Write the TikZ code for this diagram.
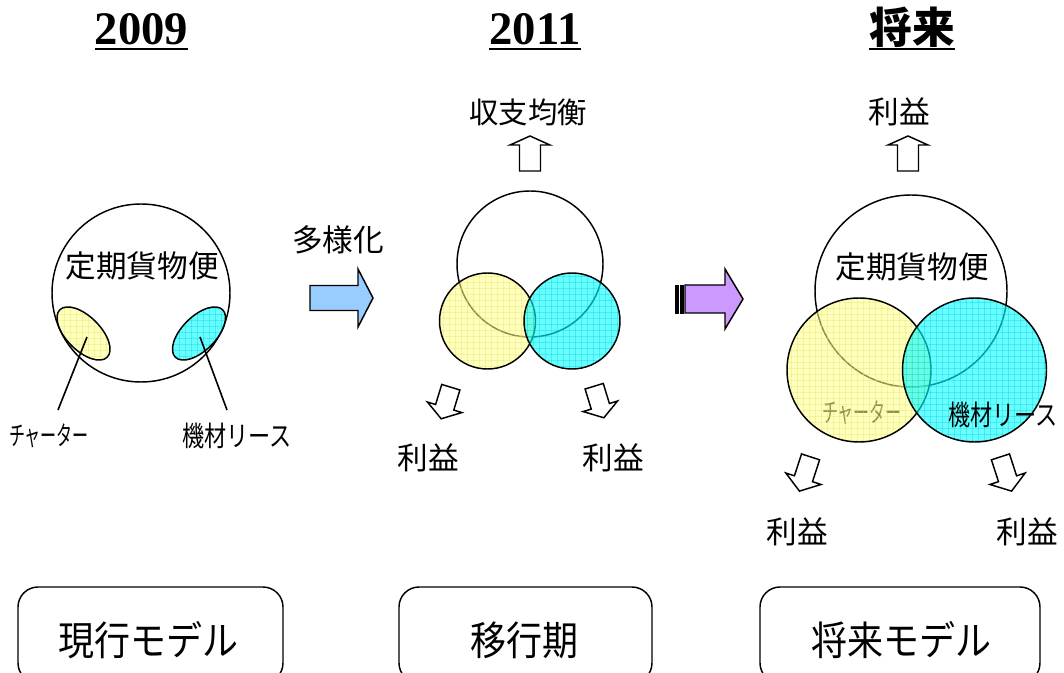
\documentclass[tikz,border=0pt]{standalone}
\usepackage{fontspec}
\usepackage{graphicx}
\setmainfont{Liberation Serif}
\newfontfamily\jp{Noto Sans CJK JP}
\newcommand\fsz[1]{\fontsize{#1}{#1}\selectfont}
\definecolor{yb}{RGB}{255,255,140}
\definecolor{cb}{RGB}{0,255,255}
\definecolor{yg}{RGB}{225,225,80}
\definecolor{cg}{RGB}{0,190,210}
\definecolor{blueA}{RGB}{153,204,255}
\definecolor{purpA}{RGB}{204,153,255}
\newcommand\gridbox[5]{%
  \fill[#4] (#1,#2) rectangle ++(#3,#3);
  \foreach \k in {0,6,...,#3} {\draw[#5] ({#1+\k},#2) -- ++(0,#3); \draw[#5] (#1,{#2+\k}) -- ++(#3,0);}}
\tikzset{
  circ/.style={draw=black, line width=1.1pt},
  yfill/.style={fill=yb, fill opacity=0.55},
  cfill/.style={fill=cb, fill opacity=0.6},
  ygrid/.style={draw=yg, line width=0.3pt, draw opacity=0.35},
  cgrid/.style={draw=cg, line width=0.3pt, draw opacity=0.3},
  lbl/.style={font=\jp\fsz{23}, inner sep=0pt},
  title/.style={font=\bfseries\fsz{35}, inner sep=0pt, anchor=base},
  boxsty/.style={draw=black, line width=1.1pt, rounded corners=15pt},
  boxtxt/.style={font=\jp\fsz{30}, inner sep=0pt},
  pics/barrow/.style n args={5}{code={
    \filldraw[fill=#5, draw=black, line width=1.1pt, line join=miter]
      (-#1/2,-#2/2) -- (#1/2-#4,-#2/2) -- (#1/2-#4,-#3/2) -- (#1/2,0)
      -- (#1/2-#4,#3/2) -- (#1/2-#4,#2/2) -- (-#1/2,#2/2) -- cycle;
  }}
}
\begin{document}
\begin{tikzpicture}[x=0.75pt,y=-0.75pt]
\path[use as bounding box, clip] (0,0) rectangle (1064,673);

% ---------- titles
\node[title] (y1) at (141.5,45) {2009};
\draw[line width=2pt] ([yshift=-3pt]y1.base west) -- ([yshift=-3pt]y1.base east);
\node[title] (y2) at (535,45) {2011};
\draw[line width=2pt] ([yshift=-3pt]y2.base west) -- ([yshift=-3pt]y2.base east);
\node[title, font=\jp\bfseries\fsz{32}] (y3) at (912,44) {将来};
\draw[line width=2pt] ([yshift=-3.75pt]y3.base west) -- ([yshift=-3.75pt]y3.base east);

% ---------- left section (2009)
\draw[circ, fill=white] (141,293) circle [radius=89];
\node[lbl] (teiki1) at (142,266) {定期貨物便};
\begin{scope}
  \clip[rotate around={-45:(83.5,333.5)}] (83.5,333.5) ellipse [x radius=33.5, y radius=17];
  \gridbox{40}{290}{90}{yfill}{ygrid}
\end{scope}
\draw[circ, rotate around={-45:(83.5,333.5)}] (83.5,333.5) ellipse [x radius=33.5, y radius=17];
\begin{scope}
  \clip[rotate around={45:(199,333.5)}] (199,333.5) ellipse [x radius=33.5, y radius=17];
  \gridbox{155}{290}{90}{cfill}{cgrid}
\end{scope}
\draw[circ, rotate around={45:(199,333.5)}] (199,333.5) ellipse [x radius=33.5, y radius=17];
\coordinate (ych) at (87,337);
\coordinate (cch) at (200,337);
\coordinate (yend) at (58,410);
\coordinate (cend) at (227,410);
\draw[line width=1.2pt] (ych) -- (yend);
\draw[line width=1.2pt] (cch) -- (cend);
\node[lbl, font=\jp\fsz{20}] (charter1) at (49,436) {\scalebox{0.6}[1]{チャーター}};
\node[lbl, font=\jp\fsz{21}] (lease1) at (237,436) {\scalebox{0.79}[1]{機材リース}};

% ---------- arrow 1
\node[lbl] (tayo) at (338,240) {多様化};
\pic (arr1) at (341.5,298) {barrow={63}{25}{58}{15}{blueA}};

% ---------- middle section (2011)
\node[lbl, font=\jp\fsz{22}] (shushi) at (528,112) {収支均衡};
\pic[rotate=90] (upm) at (530,153.5) {barrow={35}{21}{40}{9}{white}};
\draw[circ, fill=white] (530,264) circle [radius=73];
\begin{scope}
  \clip (487.5,321) circle [radius=48];
  \gridbox{437}{270}{102}{yfill}{ygrid}
\end{scope}
\draw[circ] (487.5,321) circle [radius=48];
\begin{scope}
  \clip (572,321) circle [radius=48];
  \gridbox{521}{270}{102}{cfill}{cgrid}
\end{scope}
\draw[circ] (572,321) circle [radius=48];
\pic[rotate=-107] (dml) at (446,403) {barrow={33}{19}{36}{12}{white}};
\pic[rotate=-73] (dmr) at (599,402) {barrow={33}{19}{36}{12}{white}};
\node[lbl] (riekiml) at (428,458) {利益};
\node[lbl] (riekimr) at (613,458) {利益};

% ---------- arrow 2
\filldraw[fill=black, draw=black, line width=0.6pt] (675,285) rectangle (678,313);
\filldraw[fill=black, draw=black, line width=0.6pt] (680,285) rectangle (683,313);
\pic (arr2) at (714,299) {barrow={58}{28}{60}{18}{purpA}};

% ---------- right section (future)
\node[lbl] (riekitop) at (899,112) {利益};
\pic[rotate=90] (upr) at (908,153.5) {barrow={35}{21}{40}{9}{white}};
\draw[circ, fill=white] (911,291) circle [radius=96];
\node[lbl] (teiki2) at (912,267) {定期貨物便};
\node[lbl, font=\jp\fsz{20}] (charter2) at (862,413) {\scalebox{0.6}[1]{チャーター}};
\begin{scope}
  \clip (859,370) circle [radius=72];
  \gridbox{785}{296}{150}{yfill}{ygrid}
\end{scope}
\draw[circ] (859,370) circle [radius=72];
\begin{scope}
  \clip (974.5,370) circle [radius=72];
  \gridbox{900}{296}{150}{cfill}{cgrid}
\end{scope}
\draw[circ] (974.5,370) circle [radius=72];
\node[lbl, font=\jp\fsz{21}] (lease2) at (1003,415) {\scalebox{0.79}[1]{機材リース}};
\pic[rotate=-108] (drl) at (805,474) {barrow={36}{19}{37}{13}{white}};
\pic[rotate=-72] (drr) at (1006,474) {barrow={36}{19}{37}{13}{white}};
\node[lbl] (riekirl) at (797,532) {利益};
\node[lbl] (riekirr) at (1027,532) {利益};

% ---------- bottom boxes
\draw[boxsty] (18,587) rectangle (283,683);
\draw[boxsty] (399,587) rectangle (652,683);
\draw[boxsty] (760,587) rectangle (1040,683);
\node[boxtxt] (m1) at (148,640) {\scalebox{0.9}[1]{現行モデル}};
\node[boxtxt] (m2) at (524,640) {\scalebox{0.9}[1]{移行期}};
\node[boxtxt] (m3) at (901,640) {\scalebox{0.9}[1]{将来モデル}};
\end{tikzpicture}
\end{document}
